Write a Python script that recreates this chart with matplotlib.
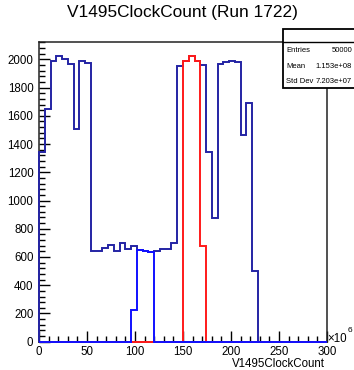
import numpy as np
import matplotlib
matplotlib.use('Agg')
import matplotlib.pyplot as plt
from matplotlib.patches import Rectangle
from matplotlib.lines import Line2D
from matplotlib.ticker import MultipleLocator

plt.rcParams['font.family'] = ['Liberation Sans', 'DejaVu Sans']

# Histogram data (x in units of 1e6, 50 bins of width 6 from 0 to 300)
bin_edges = np.arange(0, 301, 6)
all_counts = [1345, 1650, 1985, 2025, 2000, 1970, 1505, 1985, 1975,
              643, 643, 667, 684, 643, 700, 655, 677, 647, 640, 635,
              640, 655, 660, 702, 1955, 1990, 2021, 1990, 1962, 1343,
              877, 1967, 1981, 1990, 1981, 1462, 1690, 504,
              0, 0, 0, 0, 0, 0, 0, 0, 0, 0, 0, 0]
red_counts = [0] * 25 + [1990, 2021, 1990, 675] + [0] * 21
blue_counts = [0] * 16 + [225, 647, 640, 635] + [0] * 30

stats_labels = ['Entries', 'Mean', 'Std Dev']
stats_values = ['50000', '1.153e+08', '7.203e+07']

W, H = 354, 370
fig = plt.figure(figsize=(W / 100, H / 100), dpi=100)


def fx(x):
    return x / W


def fy(y):
    return 1 - y / H


ax = fig.add_axes([fx(39), fy(341.7), fx(327) - fx(39), fy(41.7) - fy(341.7)])

ax.stairs(all_counts, bin_edges, color='#2424a4', lw=1.4, clip_on=False, zorder=3)
ax.stairs(red_counts, bin_edges, color='#ff1a1a', lw=1.4, clip_on=False, zorder=4)
ax.stairs(blue_counts, bin_edges, color='#1010ff', lw=1.4, clip_on=False, zorder=5)

ax.set_xlim(0, 300)
ax.set_ylim(0, 2125)

ax.xaxis.set_major_locator(MultipleLocator(50))
ax.xaxis.set_minor_locator(MultipleLocator(10))
ax.yaxis.set_major_locator(MultipleLocator(200))
ax.yaxis.set_minor_locator(MultipleLocator(40))
ax.tick_params(which='both', direction='in', top=False, right=False,
               width=1.0, color='black', labelsize=8.3)
ax.tick_params(which='major', length=8)
ax.tick_params(which='minor', length=4)
ax.tick_params(axis='y', pad=4)
ax.tick_params(axis='x', pad=3)
for s in ax.spines.values():
    s.set_linewidth(1.1)
    s.set_color('#222222')

# title and axis text
fig.text(fx(182.5), fy(13), 'V1495ClockCount (Run 1722)', ha='center', va='center', fontsize=12.4)
fig.text(fx(325), fy(364), 'V1495ClockCount', ha='right', va='center', fontsize=8.3)
fig.text(fx(327), fy(338.5), '\u00d710', ha='left', va='center', fontsize=8.3)
fig.text(fx(347.5), fy(331), '6', ha='left', va='center', fontsize=6)

# stats box
fig.add_artist(Rectangle((fx(283), fy(87.5)), fx(380) - fx(283), fy(29) - fy(87.5),
                         transform=fig.transFigure, facecolor='white', edgecolor='black',
                         lw=1.3, zorder=10))
fig.add_artist(Line2D([fx(283), fx(360)], [fy(42), fy(42)], transform=fig.transFigure,
                      color='black', lw=1.0, zorder=11))
for i, (lab, val) in enumerate(zip(stats_labels, stats_values)):
    yy = 50.7 + i * 15.5
    fig.text(fx(286), fy(yy), lab, ha='left', va='center', fontsize=5.5, zorder=12)
    fig.text(fx(352), fy(yy), val, ha='right', va='center', fontsize=5.5, zorder=12)

fig.savefig('out.png', dpi=100)
